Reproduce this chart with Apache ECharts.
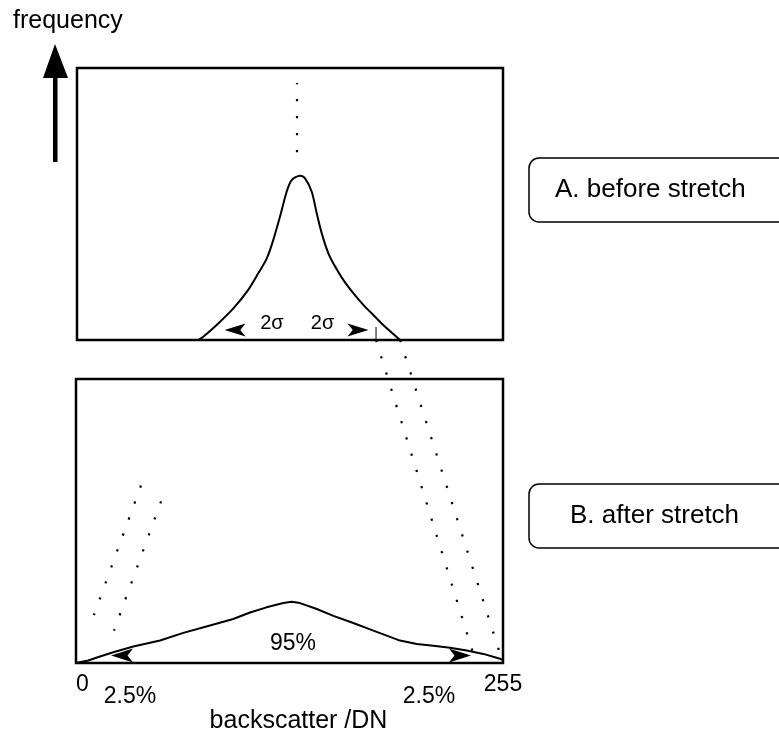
<!DOCTYPE html>
<html>
<head>
<meta charset="utf-8">
<script src="https://cdn.jsdelivr.net/npm/echarts@6/dist/echarts.min.js"></script>
<style>
  html, body { margin: 0; padding: 0; background: #fff; }
  #main { width: 779px; height: 735px; }
</style>
</head>
<body>
<div id="main"></div>
<script>
// histogram before stretch (x: backscatter DN, y: relative frequency)
const beforeX = [72.6, 75.6, 83.6, 93.6, 102.5, 108.5, 113.6, 117.5, 121.5, 125.5, 128.5, 133.5, 136.5, 140.5, 143.5, 146.5, 150.4, 153.4, 159.4, 165.4, 171.4, 177.4, 183.3, 193.4];
const beforeY = [0, 1.2, 5.5, 11.6, 18.4, 24.5, 30.0, 36.8, 45.3, 54.5, 58.8, 60.4, 59.4, 54.5, 46.6, 39.2, 31.9, 28.2, 22.1, 17.2, 12.9, 9.2, 5.5, 0];

// histogram after stretch
const afterX = [0, 7.3, 14.3, 22.3, 34.2, 50.2, 64.1, 80.0, 93.9, 103.9, 113.8, 123.8, 128.8, 133.8, 143.8, 153.7, 165.6, 177.6, 193.5, 203.5, 213.4, 223.4, 233.3, 243.3, 253.2, 255];
const afterY = [0, 0.9, 2.3, 3.8, 5.8, 7.9, 10.6, 13.2, 15.5, 17.8, 19.6, 21.1, 21.6, 21.1, 19.0, 16.6, 14.1, 11.4, 7.9, 6.7, 6.1, 5.4, 4.4, 3.2, 1.5, 0.9];

// guides and markers
const peakGuideX = [131.7, 131.7];
const peakGuideY = [69, 94.5];
const sigmaTickX = [179, 179];
const sigmaTickY = [0, 4.8];
const sigmaArrowX = [94.6, 168.2];
const sigmaArrowY = [3.7, 3.7];
const sigmaLabelX = [116.7, 147];
const sigmaLabelY = [6.2, 6.2];
const sigmaLabels = ['2σ', '2σ'];
const stretchArrowX = [27.5, 229.3];
const stretchArrowY = [2.6, 2.6];
const centreLabel = '95%';
const centreLabelX = 129.6;
const centreLabelY = 6.8;
const tailLabels = ['2.5%', '2.5%'];
const tailLabelX = [32.2, 210.8];
const leftGuideAX = [50.8, 22.7];
const leftGuideAY = [56.9, 11.4];
const leftGuideBX = [38.8, 10.7];
const leftGuideBY = [62.5, 16.9];
// links from the upper histogram base to the lower one
const linkFromX = [179, 193.4];
const linkToX = [239, 255];
const panelLabels = ['A. before stretch', 'B. after stretch'];

const FONT = '"Liberation Sans", Arial, Helvetica, sans-serif';
const LEFT_ARROW = 'path://M0,5 L20,0 L15,5 L20,10 Z';
const RIGHT_ARROW = 'path://M20,5 L0,0 L5,5 L0,10 Z';
const DOTS = [2.2, 14.8];

function pairs(xs, ys) {
    return xs.map((x, i) => [x, ys[i]]);
}

const chart = echarts.init(document.getElementById('main'));

chart.setOption({
    animation: false,
    grid: [
        { left: 77, top: 68, right: 276, bottom: 395, show: true, borderColor: '#000', borderWidth: 2.5 },
        { left: 76, top: 379, right: 276, bottom: 71, show: true, borderColor: '#000', borderWidth: 2.5 }
    ],
    xAxis: [
        { type: 'value', gridIndex: 0, min: 0, max: 255, show: false },
        {
            type: 'value', gridIndex: 1, min: 0, max: 255, interval: 255,
            axisLine: { show: false }, axisTick: { show: false }, splitLine: { show: false },
            axisLabel: { color: '#000', fontSize: 23, fontFamily: FONT, margin: 10, alignMinLabel: 'left' },
            name: 'backscatter /DN', nameLocation: 'middle', nameGap: 46,
            nameTextStyle: { color: '#000', fontSize: 25, fontFamily: FONT, padding: [0, 0, 0, 18] }
        }
    ],
    yAxis: [
        { type: 'value', gridIndex: 0, min: 0, max: 100, show: false },
        { type: 'value', gridIndex: 1, min: 0, max: 100, show: false }
    ],
    series: [
        {
            type: 'line', xAxisIndex: 0, yAxisIndex: 0, data: pairs(beforeX, beforeY),
            smooth: 0.3, symbol: 'none', lineStyle: { color: '#000', width: 2 }
        },
        {
            type: 'line', xAxisIndex: 0, yAxisIndex: 0, data: pairs(peakGuideX, peakGuideY),
            symbol: 'none', lineStyle: { color: '#000', width: 2.2, type: DOTS }
        },
        {
            type: 'line', xAxisIndex: 0, yAxisIndex: 0, data: pairs(sigmaTickX, sigmaTickY),
            symbol: 'none', lineStyle: { color: '#000', width: 1 }
        },
        {
            type: 'scatter', xAxisIndex: 0, yAxisIndex: 0,
            data: pairs(sigmaArrowX, sigmaArrowY).map((p, i) => ({ value: p, symbol: i === 0 ? LEFT_ARROW : RIGHT_ARROW })),
            symbolSize: [21, 13], itemStyle: { color: '#000', opacity: 1 }
        },
        {
            type: 'line', xAxisIndex: 1, yAxisIndex: 1, data: pairs(afterX, afterY),
            symbol: 'none', lineStyle: { color: '#000', width: 2 }
        },
        {
            type: 'scatter', xAxisIndex: 1, yAxisIndex: 1,
            data: pairs(stretchArrowX, stretchArrowY).map((p, i) => ({ value: p, symbol: i === 0 ? LEFT_ARROW : RIGHT_ARROW })),
            symbolSize: [22, 14], itemStyle: { color: '#000', opacity: 1 }
        },
        {
            type: 'line', xAxisIndex: 1, yAxisIndex: 1, data: pairs(leftGuideAX, leftGuideAY),
            symbol: 'none', lineStyle: { color: '#000', width: 2.2, type: DOTS }
        },
        {
            type: 'line', xAxisIndex: 1, yAxisIndex: 1, data: pairs(leftGuideBX, leftGuideBY),
            symbol: 'none', lineStyle: { color: '#000', width: 2.2, type: DOTS }
        }
    ]
});

// elements placed from data positions
const graphics = [];

linkFromX.forEach((x, i) => {
    const a = chart.convertToPixel({ gridIndex: 0 }, [x, 0]);
    const b = chart.convertToPixel({ gridIndex: 1 }, [linkToX[i], 0]);
    graphics.push({
        type: 'line', silent: true,
        shape: { x1: a[0], y1: a[1], x2: b[0], y2: b[1] },
        style: { stroke: '#000', lineWidth: 2.2, lineDash: DOTS }
    });
});

sigmaLabels.forEach((t, i) => {
    const p = chart.convertToPixel({ gridIndex: 0 }, [sigmaLabelX[i], sigmaLabelY[i]]);
    graphics.push({
        type: 'text', silent: true,
        style: { text: t, x: p[0], y: p[1], textAlign: 'center', textVerticalAlign: 'middle', font: '20px ' + FONT, fill: '#000' }
    });
});

const c = chart.convertToPixel({ gridIndex: 1 }, [centreLabelX, centreLabelY]);
graphics.push({
    type: 'text', silent: true,
    style: { text: centreLabel, x: c[0], y: c[1], textAlign: 'center', textVerticalAlign: 'middle', font: '23px ' + FONT, fill: '#000' }
});

tailLabels.forEach((t, i) => {
    const p = chart.convertToPixel({ gridIndex: 1 }, [tailLabelX[i], 0]);
    graphics.push({
        type: 'text', silent: true,
        style: { text: t, x: p[0], y: p[1] + 34, textAlign: 'center', textVerticalAlign: 'middle', font: '23px ' + FONT, fill: '#000' }
    });
});

// frequency arrow
graphics.push({
    type: 'text', left: 13, top: 9,
    style: { text: 'frequency', font: '25px ' + FONT, fill: '#000' }
});
graphics.push({ type: 'rect', shape: { x: 53, y: 70, width: 4.5, height: 92 }, style: { fill: '#000' } });
graphics.push({ type: 'polygon', shape: { points: [[55, 44], [43, 78], [68, 78]] }, style: { fill: '#000' } });

// panel label boxes
[[158, 555], [484, 570]].forEach((pos, i) => {
    graphics.push({
        type: 'rect',
        shape: { x: 529, y: pos[0], width: 300, height: 64, r: 10 },
        style: { fill: 'none', stroke: '#000', lineWidth: 1.5 }
    });
    graphics.push({
        type: 'text',
        style: { text: panelLabels[i], x: pos[1], y: pos[0] + 32, textVerticalAlign: 'middle', font: '26px ' + FONT, fill: '#000' }
    });
});

chart.setOption({ graphic: graphics });
</script>
</body>
</html>
